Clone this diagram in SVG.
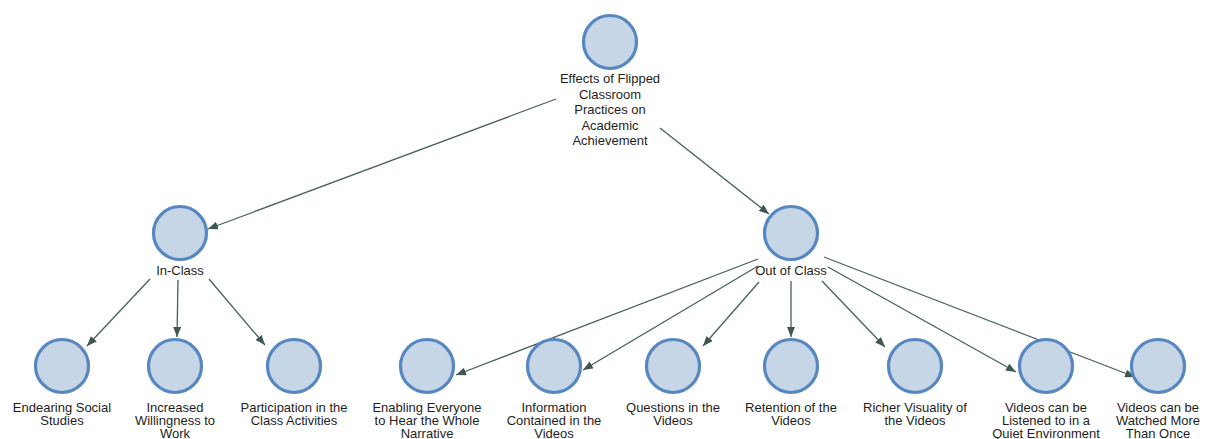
<svg xmlns="http://www.w3.org/2000/svg" width="1210" height="439" viewBox="0 0 1210 439">
<style>
.bg{fill:#ffffff}
.node circle{fill:#c6d6e7;stroke:#5787c0;stroke-width:3.2}
.node text{font-family:"Liberation Sans",Arial,sans-serif;font-size:13px;fill:#1e1e1e;text-anchor:middle}
.edges line{stroke:#46625c;stroke-width:1.3;fill:none;marker-end:url(#arr)}
</style>
<defs>
<marker id="arr" markerUnits="userSpaceOnUse" markerWidth="11" markerHeight="8" refX="10" refY="4" orient="auto">
<path d="M0,0 L10,4 L0,8 z" fill="#3d5852"/>
</marker>
</defs>
<rect class="bg" x="0" y="0" width="1210" height="439"/>
<g id="connectors" class="edges">
<line x1="556" y1="99" x2="208" y2="229"/>
<line x1="660" y1="128" x2="769" y2="214"/>
<line x1="150" y1="279" x2="87" y2="346"/>
<line x1="178" y1="280" x2="177" y2="337"/>
<line x1="209" y1="279" x2="265" y2="345"/>
<line x1="758" y1="259" x2="456" y2="375"/>
<line x1="758" y1="266" x2="583" y2="370"/>
<line x1="759" y1="282" x2="703" y2="346"/>
<line x1="791" y1="281" x2="791" y2="337"/>
<line x1="822" y1="281" x2="885" y2="347"/>
<line x1="828" y1="267" x2="1016" y2="372"/>
<line x1="824" y1="257" x2="1135" y2="377"/>
</g>
<g id="n-root" class="node"><circle cx="610" cy="42" r="26.5"/>
<text x="610" y="83">Effects of Flipped</text><text x="610" y="98.5">Classroom</text><text x="610" y="114">Practices on</text><text x="610" y="129.5">Academic</text><text x="610" y="145">Achievement</text></g>
<g id="n-inclass" class="node"><circle cx="180" cy="233" r="26.5"/><text x="180" y="274.5">In-Class</text></g>
<g id="n-outclass" class="node"><circle cx="791" cy="233" r="26.5"/><text x="791" y="275">Out of Class</text></g>
<g id="n-endearing" class="node"><circle cx="62" cy="366" r="26.5"/><text x="62" y="411.5">Endearing Social</text><text x="62" y="424.5">Studies</text></g>
<g id="n-increased" class="node"><circle cx="175" cy="366" r="26.5"/><text x="175" y="411.5">Increased</text><text x="175" y="424.5">Willingness to</text><text x="175" y="437.5">Work</text></g>
<g id="n-participation" class="node"><circle cx="294" cy="366" r="26.5"/><text x="294" y="411.5">Participation in the</text><text x="294" y="424.5">Class Activities</text></g>
<g id="n-enabling" class="node"><circle cx="427" cy="366" r="26.5"/><text x="427" y="411.5">Enabling Everyone</text><text x="427" y="424.5">to Hear the Whole</text><text x="427" y="437.5">Narrative</text></g>
<g id="n-information" class="node"><circle cx="554" cy="366" r="26.5"/><text x="554" y="411.5">Information</text><text x="554" y="424.5">Contained in the</text><text x="554" y="437.5">Videos</text></g>
<g id="n-questions" class="node"><circle cx="673" cy="366" r="26.5"/><text x="673" y="411.5">Questions in the</text><text x="673" y="424.5">Videos</text></g>
<g id="n-retention" class="node"><circle cx="791" cy="366" r="26.5"/><text x="791" y="411.5">Retention of the</text><text x="791" y="424.5">Videos</text></g>
<g id="n-richer" class="node"><circle cx="915" cy="366" r="26.5"/><text x="915" y="411.5">Richer Visuality of</text><text x="915" y="424.5">the Videos</text></g>
<g id="n-listened" class="node"><circle cx="1046" cy="366" r="26.5"/><text x="1046" y="411.5">Videos can be</text><text x="1046" y="424.5">Listened to in a</text><text x="1046" y="437.5">Quiet Environment</text></g>
<g id="n-watched" class="node"><circle cx="1158" cy="366" r="26.5"/><text x="1158" y="411.5">Videos can be</text><text x="1158" y="424.5">Watched More</text><text x="1158" y="437.5">Than Once</text></g>
</svg>
